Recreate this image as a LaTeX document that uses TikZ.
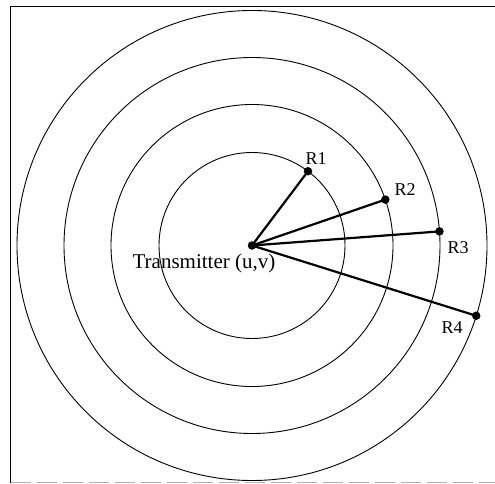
\documentclass[tikz,border=0pt]{standalone}
\usepackage{fontspec}
\setmainfont{Liberation Serif}
\begin{document}
\begin{tikzpicture}[x=1pt,y=-1pt,
  ring/.style={draw=black,line width=0.9pt},
  spoke/.style={draw=black,line width=2.2pt},
  dot/.style={circle,fill=black,inner sep=0pt,minimum size=8.5pt},
  rlabel/.style={font=\fontsize{18}{19}\selectfont,inner sep=0pt},
  tlabel/.style={font=\fontsize{21}{23}\selectfont,inner sep=0pt}]
\useasboundingbox (0,0) rectangle (495,484);
% frame
\draw[line width=1.6pt] (10.5,483) -- (10.5,6.5) -- (497,6.5);
\draw[line width=0.8pt,gray!60,dash pattern=on 20pt off 6pt] (10.5,482.5) -- (497,482.5);
% rings
\coordinate (c) at (252,245.5);
\foreach \r in {93,141,188,235} \draw[ring] (c) circle[radius=\r];
% transmitter and receivers
\node[dot] (tx) at (c) {};
\node[dot] (r1) at ([shift={(-53:93)}]c) {};
\node[dot] (r2) at ([shift={(-19:141)}]c) {};
\node[dot] (r3) at ([shift={(-4.3:188)}]c) {};
\node[dot] (r4) at ([shift={(17.4:235)}]c) {};
\draw[spoke] (tx.center) -- (r1.center);
\draw[spoke] (tx.center) -- (r2.center);
\draw[spoke] (tx.center) -- (r3.center);
\draw[spoke] (tx.center) -- (r4.center);
% labels
\node[tlabel] (tl) at (204,263.5) {Transmitter (u,v)};
\node[rlabel] (l1) at (316,159) {R1};
\node[rlabel] (l2) at (405,189.5) {R2};
\node[rlabel] (l3) at (458,248) {R3};
\node[rlabel] (l4) at (452,328) {R4};
\end{tikzpicture}
\end{document}
